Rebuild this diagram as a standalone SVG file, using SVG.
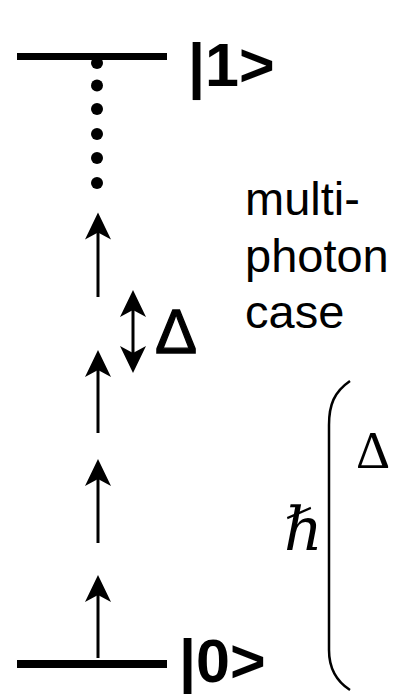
<svg xmlns="http://www.w3.org/2000/svg" width="393" height="694" viewBox="0 0 393 694">
<style>
.level{fill:#000}
.shaft{stroke:#000;stroke-width:3;fill:none}
.dot{fill:#000}
.ket{font-family:"Liberation Sans",Arial,sans-serif;font-weight:bold;font-size:61px;fill:#000}
.lbl{font-family:"Liberation Sans",Arial,sans-serif;font-size:47px;fill:#000}
.serif{font-family:"Liberation Serif","DejaVu Serif",serif;fill:#000}
</style>
<defs>
<path id="headUp" d="M0,0 L13,27 L0,20 L-13,27 Z" fill="#000"/>
<path id="headDown" d="M0,0 L13,-27 L0,-20 L-13,-27 Z" fill="#000"/>
</defs>
<g id="level1">
<rect class="level" x="17" y="53" width="150" height="7"/>
<text class="ket" x="188" y="86">|1&gt;</text>
</g>
<g id="level0">
<rect class="level" x="17" y="660" width="150" height="8"/>
<text class="ket" x="179" y="682">|0&gt;</text>
</g>
<g id="dots">
<circle class="dot" cx="97" cy="63" r="6"/>
<circle class="dot" cx="97" cy="85.5" r="6"/>
<circle class="dot" cx="97" cy="109" r="6"/>
<circle class="dot" cx="97" cy="134" r="6"/>
<circle class="dot" cx="97" cy="158" r="6"/>
<circle class="dot" cx="97" cy="183" r="6"/>
</g>
<g id="connectors">
<line class="shaft" x1="98" y1="297" x2="98" y2="230"/>
<use href="#headUp" x="98" y="212.5"/>
<line class="shaft" x1="98" y1="433" x2="98" y2="368"/>
<use href="#headUp" x="98" y="350"/>
<line class="shaft" x1="98" y1="543" x2="98" y2="477"/>
<use href="#headUp" x="98" y="459"/>
<line class="shaft" x1="98" y1="658" x2="98" y2="593"/>
<use href="#headUp" x="98" y="575"/>
<line class="shaft" x1="133" y1="308" x2="133" y2="355"/>
<use href="#headUp" x="133" y="290"/>
<use href="#headDown" x="133" y="373"/>
</g>
<g id="delta-label">
<text class="lbl" x="155" y="352.5" style="font-size:63px;stroke:#000;stroke-width:1.3">Δ</text>
</g>
<g id="caption">
<text class="lbl" x="245" y="215">multi-</text>
<text class="lbl" x="245" y="272">photon</text>
<text class="lbl" x="245" y="328">case</text>
</g>
<g id="formula">
<text class="serif" x="284" y="550" font-size="60" font-style="italic">ℏ</text>
<path d="M350,381 C334,392 329,405 329,425 L329,650 C329,668 336,681 350,690" fill="none" stroke="#000" stroke-width="2.5"/>
<text class="serif" x="356" y="468" font-size="53">Δ</text>
</g>
</svg>
